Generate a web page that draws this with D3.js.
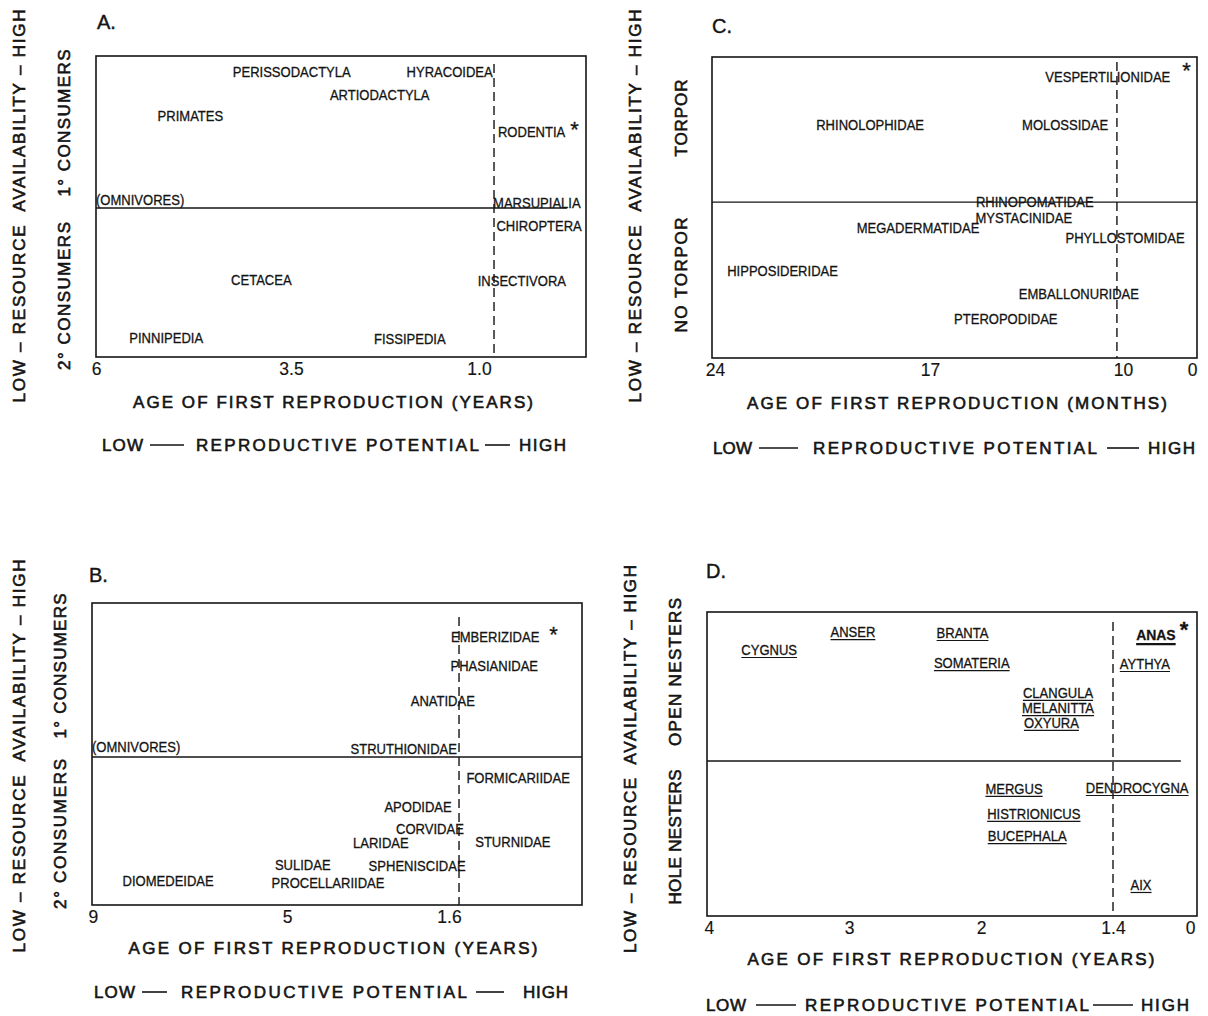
<!DOCTYPE html>
<html><head><meta charset="utf-8">
<script src="https://cdn.jsdelivr.net/npm/d3@7"></script>
<style>body{margin:0;background:#fff}svg{display:block}text{white-space:pre}</style>
</head><body>
<svg id="chart" width="1208" height="1016"></svg>
<script>
// ---------- Panel A (mammal orders) ----------
const namesA = ["PERISSODACTYLA","HYRACOIDEA","ARTIODACTYLA","PRIMATES","RODENTIA","MARSUPIALIA","CHIROPTERA","CETACEA","INSECTIVORA","PINNIPEDIA","FISSIPEDIA"];
const agesA = [3.49, 1.39, 2.32, 4.79, 0.30, 0.23, 0.20, 3.88, 0.43, 5.10, 1.92];
const levelsA = [9.47, 9.47, 8.70, 8.01, 7.48, 5.12, 4.35, 2.56, 2.52, 0.63, 0.60];
const ticksA = [6, 3.5, 1.0];
const tickLabelsA = ["6", "3.5", "1.0"];
const dividerA = 4.95;
const cutoffA = 0.80;
const starA = "RODENTIA";

// ---------- Panel B (bird families) ----------
const namesB = ["EMBERIZIDAE","PHASIANIDAE","ANATIDAE","STRUTHIONIDAE","FORMICARIIDAE","APODIDAE","CORVIDAE","LARIDAE","STURNIDAE","SULIDAE","SPHENISCIDAE","DIOMEDEIDAE","PROCELLARIIDAE"];
const agesB = [0.63, 0.65, 1.73, 2.55, 0.15, 2.25, 2.0, 3.03, 0.26, 4.67, 2.27, 7.45, 4.14];
const levelsB = [8.87, 7.91, 6.75, 5.17, 4.21, 3.25, 2.52, 2.05, 2.09, 1.32, 1.29, 0.79, 0.73];
const ticksB = [9, 5, 1.6];
const tickLabelsB = ["9", "5", "1.6"];
const dividerB = 4.9;
const cutoffB = 1.39;
const starB = "EMBERIZIDAE";

// ---------- Panel C (bat families) ----------
const namesC = ["VESPERTILIONIDAE","RHINOLOPHIDAE","MOLOSSIDAE","RHINOPOMATIDAE","MYSTACINIDAE","MEGADERMATIDAE","PHYLLOSTOMIDAE","HIPPOSIDERIDAE","EMBALLONURIDAE","PTEROPODIDAE"];
const agesC = [10.55, 18.95, 12.1, 13.2, 13.6, 17.39, 9.7, 21.8, 11.6, 14.25];
const levelsC = [9.34, 7.74, 7.74, 5.18, 4.65, 4.32, 3.99, 2.89, 2.13, 1.30];
const ticksC = [24, 17, 10, 0];
const tickLabelsC = ["24", "17", "10", "0"];
const dividerC = 5.18;
const cutoffC = 10.22;
const starC = "VESPERTILIONIDAE";

// ---------- Panel D (waterfowl genera) ----------
const namesD = ["CYGNUS","ANSER","BRANTA","ANAS","SOMATERIA","AYTHYA","CLANGULA","MELANITTA","OXYURA","MERGUS","DENDROCYGNA","HISTRIONICUS","BUCEPHALA","AIX"];
const agesD = [3.57, 2.97, 2.14, 0.62, 2.07, 0.82, 1.65, 1.65, 1.68, 1.85, 0.96, 1.76, 1.79, 0.89];
const levelsD = [8.75, 9.34, 9.31, 9.24, 8.32, 8.29, 7.34, 6.84, 6.35, 4.18, 4.21, 3.36, 2.63, 1.02];
const ticksD = [4, 3, 2, 1.4, 0];
const tickLabelsD = ["4", "3", "2", "1.4", "0"];
const dividerD = 5.1;
const cutoffD = 1.4;
const starD = "ANAS";
const boldD = ["ANAS"];

const FONT = '"Liberation Sans", Arial, Helvetica, sans-serif';
const INK = '#141414';
const svg = d3.select('#chart');
svg.append('rect').attr('width', 1208).attr('height', 1016).attr('fill', '#fff');

const panels = [
  { letter: 'A.', names: namesA, ages: agesA, levels: levelsA, ticks: ticksA, tickLabels: tickLabelsA,
    divider: dividerA, cutoff: cutoffA, star: starA, bold: [], underline: false, omnivores: true,
    xTitle: 'AGE OF FIRST REPRODUCTION (YEARS)',
    inner: [{ text: '2° CONSUMERS', cy: 296, len: 148 }, { text: '1° CONSUMERS', cy: 123, len: 147 }],
    L: { left: 96, right: 586, top: 56, bottom: 357, tickFrac: [0, 0.398, 0.7816], divEnd: 0.961, dashTop: 8,
         letterX: 97, letterY: 29, titleCx: 333, titleCy: 402, titleLen: 400,
         row: { y: 445, low: [102, 143], d1: [150, 184], rp: [196, 479], d2: [485, 510], high: [519, 566] },
         outerX: 19, outerCy: 206, outerLen: 393, innerX: 64, starGap: 5, starDy: 0, omniDy: -8 } },
  { letter: 'B.', names: namesB, ages: agesB, levels: levelsB, ticks: ticksB, tickLabels: tickLabelsB,
    divider: dividerB, cutoff: cutoffB, star: starB, bold: [], underline: false, omnivores: true,
    xTitle: 'AGE OF FIRST REPRODUCTION (YEARS)',
    inner: [{ text: '2° CONSUMERS', cy: 834, len: 150 }, { text: '1° CONSUMERS', cy: 666, len: 145 }],
    L: { left: 92, right: 582, top: 603, bottom: 905, tickFrac: [0.002, 0.398, 0.7286], divEnd: 1.0, dashTop: 14,
         letterX: 89, letterY: 582, titleCx: 333, titleCy: 948, titleLen: 409,
         row: { y: 992, low: [94, 135], d1: [142, 167], rp: [181, 467], d2: [476, 504], high: [523, 568] },
         outerX: 19, outerCy: 756, outerLen: 393, innerX: 60, starGap: 10, starDy: 0, omniDy: -10 } },
  { letter: 'C.', names: namesC, ages: agesC, levels: levelsC, ticks: ticksC, tickLabels: tickLabelsC,
    divider: dividerC, cutoff: cutoffC, star: starC, bold: [], underline: false, omnivores: false,
    xTitle: 'AGE OF FIRST REPRODUCTION (MONTHS)',
    inner: [{ text: 'NO TORPOR', cy: 275, len: 115 }, { text: 'TORPOR', cy: 118, len: 77 }],
    L: { left: 712, right: 1197, top: 57, bottom: 358, tickFrac: [0.0062, 0.4495, 0.8474, 0.9897], divEnd: 1.0, dashTop: 5,
         letterX: 712, letterY: 33, titleCx: 957, titleCy: 403, titleLen: 420,
         row: { y: 448, low: [713, 752], d1: [759, 798], rp: [813, 1097], d2: [1107, 1139], high: [1148, 1195] },
         outerX: 635, outerCy: 206, outerLen: 393, innerX: 681, starGap: 12, starDy: -4, omniDy: 0 } },
  { letter: 'D.', names: namesD, ages: agesD, levels: levelsD, ticks: ticksD, tickLabels: tickLabelsD,
    divider: dividerD, cutoff: cutoffD, star: starD, bold: boldD, underline: true, omnivores: false,
    xTitle: 'AGE OF FIRST REPRODUCTION (YEARS)',
    inner: [{ text: 'HOLE NESTERS', cy: 837, len: 135 }, { text: 'OPEN NESTERS', cy: 672, len: 148 }],
    L: { left: 707, right: 1197, top: 612, bottom: 916, tickFrac: [0.004, 0.2898, 0.5592, 0.8286, 0.9857], divEnd: 0.967, dashTop: 10,
         letterX: 706, letterY: 578, titleCx: 951, titleCy: 959, titleLen: 407,
         row: { y: 1005, low: [706, 746], d1: [756, 796], rp: [805, 1089], d2: [1093, 1133], high: [1141, 1189] },
         outerX: 630, outerCy: 759, outerLen: 388, innerX: 675, starGap: 4, starDy: -3, omniDy: 0 } }
];

function titleStyle(sel, size) {
  return sel.attr('font-family', FONT).attr('font-size', size).attr('font-weight', 'normal')
    .attr('fill', INK).attr('stroke', INK).attr('stroke-width', 0.6);
}
function fitText(g, str, x1, x2, cy, size) {
  return titleStyle(g.append('text').attr('x', x1).attr('y', cy).attr('dy', '0.35em'), size)
    .attr('textLength', x2 - x1).attr('lengthAdjust', 'spacing').text(str);
}
function vText(g, str, x, cy, len, size) {
  titleStyle(g.append('text').attr('transform', `translate(${x},${cy + len / 2}) rotate(-90)`)
    .attr('x', 0).attr('y', 0).attr('dy', '0.35em'), size)
    .attr('textLength', len).attr('lengthAdjust', 'spacing').text(str);
}

panels.forEach(p => {
  const L = p.L;
  const g = svg.append('g');
  const w = L.right - L.left;
  const x = d3.scaleLinear().domain(p.ticks).range(L.tickFrac.map(f => L.left + f * w));
  const y = d3.scaleLinear().domain([0, 10]).range([L.bottom, L.top]);

  // frame
  g.append('rect').attr('x', L.left).attr('y', L.top).attr('width', w).attr('height', L.bottom - L.top)
    .attr('fill', 'none').attr('stroke', INK).attr('stroke-width', 1.6);
  // divider
  g.append('line').attr('x1', L.left).attr('x2', L.left + L.divEnd * w)
    .attr('y1', y(p.divider)).attr('y2', y(p.divider)).attr('stroke', INK).attr('stroke-width', 1.4);
  // dashed cutoff
  g.append('line').attr('x1', x(p.cutoff)).attr('x2', x(p.cutoff))
    .attr('y1', L.top + L.dashTop).attr('y2', L.bottom)
    .attr('stroke', INK).attr('stroke-width', 1.4).attr('stroke-dasharray', '9,5');

  // x axis (tick labels only)
  const axis = d3.axisBottom(x).tickValues(p.ticks).tickFormat((d, i) => p.tickLabels[i]).tickSize(0).tickPadding(6);
  const ga = g.append('g').attr('transform', `translate(0,${L.bottom})`).call(axis);
  ga.select('.domain').remove();
  ga.selectAll('text').attr('font-family', FONT).attr('font-size', 17.5).attr('fill', INK)
    .attr('stroke', INK).attr('stroke-width', 0.15);

  // panel letter
  g.append('text').attr('x', L.letterX).attr('y', L.letterY).attr('font-family', FONT)
    .attr('font-size', 20).attr('fill', INK).attr('stroke', INK).attr('stroke-width', 0.4).text(p.letter);

  // x title
  fitText(g, p.xTitle, L.titleCx - L.titleLen / 2, L.titleCx + L.titleLen / 2, L.titleCy, 17);
  // bottom row
  const R = L.row;
  fitText(g, 'LOW', R.low[0], R.low[1], R.y, 17);
  fitText(g, 'REPRODUCTIVE POTENTIAL', R.rp[0], R.rp[1], R.y, 17);
  fitText(g, 'HIGH', R.high[0], R.high[1], R.y, 17);
  [R.d1, R.d2].forEach(d => g.append('line').attr('x1', d[0]).attr('x2', d[1]).attr('y1', R.y).attr('y2', R.y)
    .attr('stroke', INK).attr('stroke-width', 1.6));

  // y titles
  vText(g, 'LOW – RESOURCE  AVAILABILITY – HIGH', L.outerX, L.outerCy, L.outerLen, 17);
  p.inner.forEach(t => vText(g, t.text, L.innerX, t.cy, t.len, 17));

  if (p.omnivores) {
    const om = g.append('text').attr('x', L.left).attr('y', y(p.divider) + L.omniDy).attr('dy', '0.35em')
      .attr('font-family', FONT).attr('font-size', 14).attr('fill', INK)
      .attr('stroke', INK).attr('stroke-width', 0.3).text('(OMNIVORES)');
    om.attr('textLength', om.node().getComputedTextLength() * 0.93).attr('lengthAdjust', 'spacingAndGlyphs');
  }

  // taxon labels
  const rows = p.names.map((n, i) => ({ name: n, age: p.ages[i], level: p.levels[i],
    bold: p.bold.includes(n), star: n === p.star }));
  const labs = g.selectAll('text.lab').data(rows).join('text').attr('class', 'lab')
    .attr('x', d => x(d.age)).attr('y', d => y(d.level)).attr('dy', '0.35em')
    .attr('text-anchor', 'middle').attr('font-family', FONT)
    .attr('font-size', d => d.bold ? 15 : 14).attr('font-weight', d => d.bold ? 'bold' : 'normal')
    .attr('fill', INK).attr('stroke', INK).attr('stroke-width', 0.3).text(d => d.name);
  labs.each(function (d) {
    const tw0 = this.getComputedTextLength();
    const tw = tw0 * 0.93;
    d3.select(this).attr('textLength', tw).attr('lengthAdjust', 'spacingAndGlyphs');
    const cx = x(d.age), cy = y(d.level);
    if (p.underline) {
      g.append('line').attr('x1', cx - tw / 2).attr('x2', cx + tw / 2)
        .attr('y1', cy + (d.bold ? 9 : 7.5)).attr('y2', cy + (d.bold ? 9 : 7.5))
        .attr('stroke', INK).attr('stroke-width', d.bold ? 2.2 : 1.2);
    }
    if (d.star) {
      g.append('text').attr('x', cx + tw / 2 + L.starGap).attr('y', cy + 4.9 + L.starDy)
        .attr('font-family', FONT).attr('font-size', 22).attr('font-weight', d.bold ? 'bold' : 'normal')
        .attr('fill', INK).attr('stroke', INK).attr('stroke-width', 0.3).text('*');
    }
  });
});
</script>
</body></html>
